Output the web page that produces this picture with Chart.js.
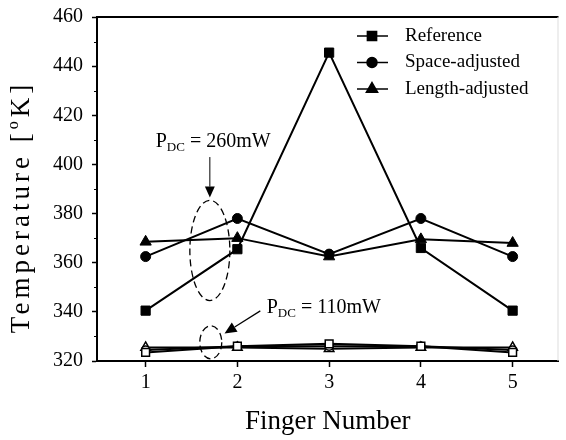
<!DOCTYPE html>
<html>
<head>
<meta charset="utf-8">
<script src="https://cdn.jsdelivr.net/npm/chart.js@4.4.1/dist/chart.umd.min.js"></script>
<style>
  html, body { margin: 0; padding: 0; background: #fff; }
  #wrap { width: 566px; height: 440px; }
</style>
</head>
<body>
<div id="wrap"><canvas id="tempChart"></canvas></div>
<script>
// finger index on the x axis
const fingers = [1, 2, 3, 4, 5];

// P_DC = 260mW, filled markers
const ref260 = [340.5, 365.5, 445.5, 366, 340.5];
const space260 = [362.5, 378, 363.5, 378, 362.5];
const length260 = [368.5, 370, 362.5, 369.5, 368];

// P_DC = 110mW, open markers
const ref110 = [323.5, 326, 327, 326, 323.5];
const space110 = [324.5, 326, 326, 326, 324.5];
const length110 = [325.5, 325.5, 325, 325.5, 325.5];

const seriesNames = ["Reference", "Space-adjusted", "Length-adjusted"];
const yTickValues = [320, 340, 360, 380, 400, 420, 440, 460];

const SERIF = "'Liberation Serif', 'DejaVu Serif', serif";

function pts(values) {
    return fingers.map((f, i) => ({ x: f, y: values[i] }));
}

function series(label, values, style, radius, filled, inLegend) {
    return {
        label: label,
        data: pts(values),
        showLine: true,
        borderColor: "#000",
        borderWidth: 2,
        pointStyle: style,
        pointRadius: radius,
        pointHoverRadius: radius,
        pointBackgroundColor: filled ? "#000" : "#fff",
        pointBorderColor: "#000",
        pointBorderWidth: filled ? 1 : 1.5,
        inLegend: inLegend,
    };
}

// frame, minor ticks, y title, legend and the P_DC notes
const decorations = {
    id: "decorations",
    afterDraw(chart) {
        const ctx = chart.ctx;
        const xs = chart.scales.x;
        const ys = chart.scales.y;
        const area = chart.chartArea;
        ctx.save();

        // top frame line and faint right edge
        ctx.strokeStyle = "#000";
        ctx.lineWidth = 2;
        ctx.beginPath();
        ctx.moveTo(area.left, area.top);
        ctx.lineTo(area.right, area.top);
        ctx.stroke();
        ctx.strokeStyle = "#ddd";
        ctx.lineWidth = 1;
        ctx.beginPath();
        ctx.moveTo(area.right - 0.5, area.top);
        ctx.lineTo(area.right - 0.5, area.bottom);
        ctx.stroke();

        // minor y ticks
        ctx.strokeStyle = "#000";
        ctx.lineWidth = 1;
        for (let v = 330; v < 460; v += 20) {
            const py = Math.round(ys.getPixelForValue(v)) + 0.5;
            ctx.beginPath();
            ctx.moveTo(area.left - 3, py);
            ctx.lineTo(area.left, py);
            ctx.stroke();
        }

        // y axis title with superscript o
        ctx.fillStyle = "#000";
        ctx.translate(29, 207);
        ctx.rotate(-Math.PI / 2);
        ctx.textBaseline = "alphabetic";
        ctx.textAlign = "left";
        if ("letterSpacing" in ctx) ctx.letterSpacing = "4px";
        const big = "27px " + SERIF;
        const small = "16px " + SERIF;
        ctx.font = big;
        const p1 = "Temperature [";
        const p3 = "K]";
        const w1 = ctx.measureText(p1).width;
        const w3 = ctx.measureText(p3).width;
        ctx.font = small;
        const w2 = ctx.measureText("o").width;
        let tx = -(w1 + w2 + w3) / 2;
        ctx.font = big;
        ctx.fillText(p1, tx, 0);
        tx += w1;
        ctx.font = small;
        ctx.fillText("o", tx, -11);
        tx += w2;
        ctx.font = big;
        ctx.fillText(p3, tx, 0);
        ctx.setTransform(1, 0, 0, 1, 0, 0);
        if ("letterSpacing" in ctx) ctx.letterSpacing = "0px";

        // legend
        const legendSets = chart.data.datasets.filter(d => d.inLegend);
        ctx.font = "19px " + SERIF;
        ctx.textBaseline = "middle";
        legendSets.forEach((ds, i) => {
            const ly = 36 + i * 26.5;
            ctx.strokeStyle = "#000";
            ctx.lineWidth = 1.5;
            ctx.beginPath();
            ctx.moveTo(357, ly);
            ctx.lineTo(388, ly);
            ctx.stroke();
            Chart.helpers.drawPoint(ctx, {
                pointStyle: ds.pointStyle,
                radius: ds.pointRadius,
                borderWidth: 1,
            }, 372, ly);
            ctx.fillStyle = "#000";
            ctx.fill();
            ctx.fillText(ds.label, 405, ly);
        });

        // dashed ellipses
        ctx.setLineDash([7, 4]);
        ctx.lineWidth = 1.3;
        ctx.strokeStyle = "#000";
        function ellipse(cx, cy, rxPx, ryVal) {
            const px = xs.getPixelForValue(cx);
            const py = ys.getPixelForValue(cy);
            const ry = Math.abs(ys.getPixelForValue(cy + ryVal) - py);
            ctx.beginPath();
            ctx.ellipse(px, py, rxPx, ry, 0, 0, Math.PI * 2);
            ctx.stroke();
        }
        ellipse(1.70, 365, 20, 20.4);
        ellipse(1.71, 327.6, 11, 6.7);
        ctx.setLineDash([]);

        // arrows
        function arrow(x1, y1, x2, y2, lw, head) {
            const ax = xs.getPixelForValue(x1), ay = ys.getPixelForValue(y1);
            const bx = xs.getPixelForValue(x2), by = ys.getPixelForValue(y2);
            const ang = Math.atan2(by - ay, bx - ax);
            ctx.lineWidth = lw;
            ctx.beginPath();
            ctx.moveTo(ax, ay);
            ctx.lineTo(bx - Math.cos(ang) * head, by - Math.sin(ang) * head);
            ctx.stroke();
            ctx.beginPath();
            ctx.moveTo(bx, by);
            ctx.lineTo(bx - Math.cos(ang) * head + Math.sin(ang) * head * 0.45,
                       by - Math.sin(ang) * head - Math.cos(ang) * head * 0.45);
            ctx.lineTo(bx - Math.cos(ang) * head - Math.sin(ang) * head * 0.45,
                       by - Math.sin(ang) * head + Math.cos(ang) * head * 0.45);
            ctx.closePath();
            ctx.fill();
        }
        ctx.fillStyle = "#000";
        arrow(1.70, 403, 1.70, 386.5, 1, 11);
        arrow(2.25, 340.4, 1.86, 331.2, 1.2, 12);

        // P_DC labels
        function pdc(x, y, rest) {
            let px = xs.getPixelForValue(x);
            const py = ys.getPixelForValue(y);
            ctx.textBaseline = "alphabetic";
            ctx.textAlign = "left";
            ctx.font = "20px " + SERIF;
            ctx.fillText("P", px, py);
            px += ctx.measureText("P").width;
            ctx.font = "13px " + SERIF;
            ctx.fillText("DC", px, py + 4);
            px += ctx.measureText("DC").width;
            ctx.font = "20px " + SERIF;
            ctx.fillText(" = " + rest, px, py);
        }
        pdc(1.11, 407, "260mW");
        pdc(2.32, 339.6, "110mW");

        ctx.restore();
    },
};

new Chart(document.getElementById("tempChart"), {
    type: "scatter",
    data: {
        datasets: [
            series(seriesNames[0], ref260, "rect", 6.5, true, true),
            series(seriesNames[1], space260, "circle", 5, true, true),
            series(seriesNames[2], length260, "triangle", 6.5, true, true),
            series(seriesNames[0], ref110, "rect", 5.5, false, false),
            series(seriesNames[1], space110, "circle", 4, false, false),
            series(seriesNames[2], length110, "triangle", 5.5, false, false),
        ],
    },
    options: {
        responsive: true,
        maintainAspectRatio: false,
        animation: false,
        layout: { padding: { top: 17, right: 1, left: 0, bottom: 0 } },
        plugins: {
            legend: { display: false },
            tooltip: { enabled: false },
        },
        scales: {
            x: {
                type: "linear",
                min: 0.47,
                max: 5.5,
                afterFit(scale) {
                    scale.height = 79;
                    scale.paddingLeft = 0;
                    scale.paddingRight = 0;
                },
                afterBuildTicks(scale) {
                    scale.ticks = fingers.map(v => ({ value: v }));
                },
                grid: {
                    drawOnChartArea: false,
                    tickLength: 6,
                    tickWidth: 1.5,
                    color: "#000",
                },
                border: { color: "#000", width: 2 },
                ticks: {
                    color: "#000",
                    font: { family: SERIF, size: 20 },
                    padding: 4,
                },
                title: {
                    display: true,
                    text: "Finger Number",
                    color: "#000",
                    font: { family: SERIF, size: 27 },
                    padding: { top: 0, bottom: 2 },
                },
            },
            y: {
                min: 320,
                max: 460,
                afterFit(scale) {
                    scale.width = 97;
                    scale.paddingTop = 0;
                    scale.paddingBottom = 0;
                },
                afterBuildTicks(scale) {
                    scale.ticks = yTickValues.map(v => ({ value: v }));
                },
                grid: {
                    drawOnChartArea: false,
                    tickLength: 5,
                    tickWidth: 1.5,
                    color: "#000",
                },
                border: { color: "#000", width: 2 },
                ticks: {
                    color: "#000",
                    font: { family: SERIF, size: 20 },
                    padding: 9,
                },
            },
        },
    },
    plugins: [decorations],
});
</script>
</body>
</html>
